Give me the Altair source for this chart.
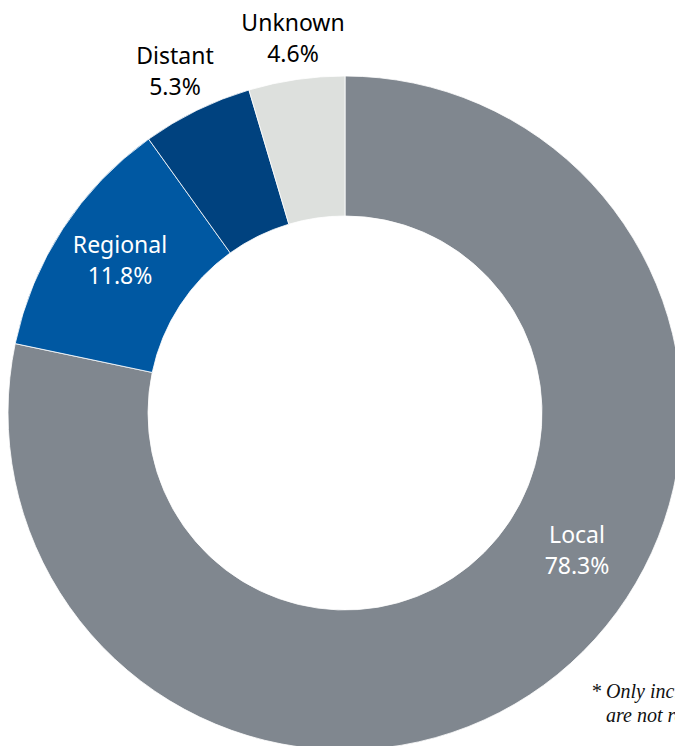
import altair as alt
import pandas as pd

# ---- data ----
stages = ["Local", "Regional", "Distant", "Unknown"]
percents = [78.3, 11.8, 5.3, 4.6]
colors = ["#80878f", "#0058a2", "#00427f", "#dde0dd"]
label_colors = ["white", "white", "black", "black"]

footnote_lines = ["* Only includes", "are not reported"]

# ---- layout (pixels) ----
W, H = 675, 746
CX, CY = 345, 413
R_OUT, R_IN = 337, 197
label_x = [577, 120, 175, 293]
label_y = [543, 253, 64, 31]
foot_x = [591, 606]
foot_y = [698, 722]

arcs = pd.DataFrame({
    "stage": stages,
    "pct": percents,
    "order": list(range(len(stages))),
})

labels = pd.DataFrame({
    "text": [f"{s}\n{p:.1f}%" for s, p in zip(stages, percents)],
    "x": label_x,
    "y": label_y,
    "col": label_colors,
})

foot = pd.DataFrame({"text": footnote_lines, "x": foot_x, "y": foot_y})

donut = alt.Chart(arcs).mark_arc(
    radius=R_OUT, radius2=R_IN, stroke="white", strokeWidth=0.8
).encode(
    theta=alt.Theta("pct:Q", stack=True),
    order=alt.Order("order:O"),
    color=alt.Color("stage:N", scale=alt.Scale(domain=stages, range=colors), legend=None),
    x=alt.value(CX),
    y=alt.value(CY),
)

text = alt.Chart(labels).mark_text(
    font="Noto Sans", fontSize=23, align="center", baseline="alphabetic",
    lineBreak="\n", lineHeight=31,
).encode(
    x=alt.X("x:Q", scale=None),
    y=alt.Y("y:Q", scale=None),
    text="text:N",
    color=alt.Color("col:N", scale=None),
)

foot_text = alt.Chart(foot).mark_text(
    font="Liberation Serif", fontSize=20, fontStyle="italic", align="left",
    baseline="alphabetic", color="#111111",
).encode(
    x=alt.X("x:Q", scale=None),
    y=alt.Y("y:Q", scale=None),
    text="text:N",
)

chart = alt.layer(donut, text, foot_text).properties(
    width=W, height=H, padding=0, autosize=alt.AutoSizeParams(type="none"),
).configure_view(stroke=None)

chart.save("out.html", embed_options={"renderer": "svg", "actions": False})
